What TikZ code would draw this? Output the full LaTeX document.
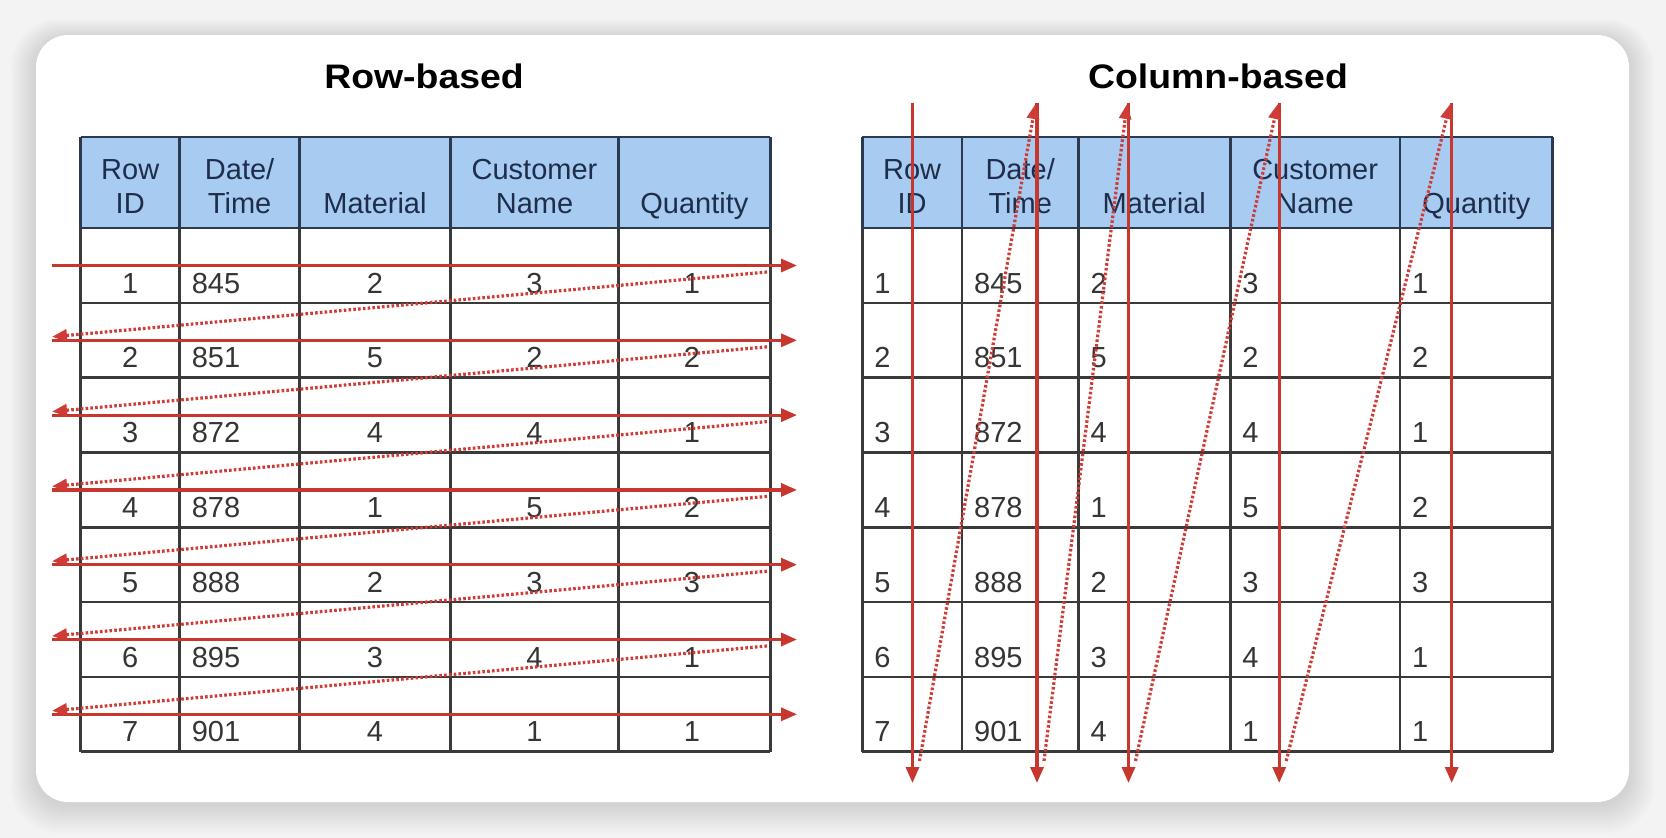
\documentclass[tikz,border=0pt]{standalone}
\usepackage{fontspec}
\setmainfont{Liberation Sans}
\usetikzlibrary{arrows.meta}
\definecolor{bgc}{HTML}{F3F3F3}
\definecolor{hdrblue}{HTML}{A8CBF1}
\definecolor{hdrline}{HTML}{2B3A4E}
\definecolor{gridc}{HTML}{3A3A3A}
\definecolor{hdrtext}{HTML}{1E2D4A}
\definecolor{datatext}{HTML}{353535}
\definecolor{arrowred}{HTML}{C8372D}
\definecolor{dotred}{HTML}{CF3B36}
\tikzset{
  titletext/.style={anchor=base, inner sep=0pt, font=\bfseries\fontsize{34}{40}\selectfont, text=black},
  hdrcell/.style={anchor=south, inner sep=0pt, text depth=0pt, align=center, font=\fontsize{29}{34}\selectfont, text=hdrtext},
  cellc/.style={anchor=base, inner sep=0pt, font=\fontsize{29}{34}\selectfont, text=datatext},
  celll/.style={anchor=base west, inner sep=0pt, font=\fontsize{29}{34}\selectfont, text=datatext},
  gridline/.style={draw=gridc, line width=2.6pt},
  hdrgrid/.style={draw=hdrline, line width=2.8pt},
  solidarrow/.style={draw=arrowred, line width=3.2pt, -{Triangle[length=16pt,width=13pt]}},
  dotarrow/.style={draw=dotred, line width=3.2pt, dash pattern=on 2.6pt off 2.2pt, -{Triangle[length=15pt,width=12pt]}}
}
\begin{document}
\begin{tikzpicture}[x=1pt,y=-1pt]
% background and card
\fill[bgc] (0,0) rectangle (1666,838);
\useasboundingbox (0,0) rectangle (1666,838);
\foreach \i in {1,...,16}{
  \pgfmathsetmacro\rc{32+\i}
  \fill[black, opacity=0.007, rounded corners=\rc pt] (36-\i*1.6, 35-\i*1.2+3) rectangle (1629+\i*1.6, 802+\i*1.8+3);
}
\fill[white, rounded corners=32pt] (36,35) rectangle (1629,802);

% titles
\node[titletext] (titleL) at (424,88.5) {\scalebox{1.1}[1]{Row-based}};
\node[titletext] (titleR) at (1218,88.5) {\scalebox{1.1}[1]{Column-based}};

% ---------- left table ----------
\fill[hdrblue] (80.75,137) rectangle (770.3,228);
\foreach \k in {1,...,7}{
  \pgfmathsetmacro\yy{228+74.8*\k}
  \draw[gridline] (80.75,\yy) -- (770.3,\yy);
}
\foreach \x in {80.75,179.6,299.6,450.5,618.4,770.3}{
  \draw[gridline] (\x,228) -- (\x,751.6);
  \draw[hdrgrid] (\x,137) -- (\x,228);
}
\draw[hdrgrid] (80.75,137) -- (770.3,137);
\draw[hdrgrid] (80.75,228) -- (770.3,228);

\node[hdrcell] (hL1) at (130.2,214) {Row\\ID};
\node[hdrcell] (hL2) at (239.6,214) {Date/\\Time};
\node[hdrcell] (hL3) at (375,214) {Material};
\node[hdrcell] (hL4) at (534.5,214) {Customer\\Name};
\node[hdrcell] (hL5) at (694.4,214) {Quantity};

\foreach \id/\dt/\ma/\cu/\qu [count=\r from 0] in {1/845/2/3/1,2/851/5/2/2,3/872/4/4/1,4/878/1/5/2,5/888/2/3/3,6/895/3/4/1,7/901/4/1/1}{
  \pgfmathsetmacro\yb{228+74.8*\r+65}
  \node[cellc] (lid\id) at (130.2,\yb) {\id};
  \node[celll] (ldt\id) at (191.6,\yb) {\dt};
  \node[cellc] (lma\id) at (375,\yb) {\ma};
  \node[cellc] (lcu\id) at (534.5,\yb) {\cu};
  \node[cellc] (lqu\id) at (692,\yb) {\qu};
}

% ---------- right table ----------
\fill[hdrblue] (862.2,137) rectangle (1552.6,228);
\foreach \k in {1,...,7}{
  \pgfmathsetmacro\yy{228+74.8*\k}
  \draw[gridline] (862.2,\yy) -- (1552.6,\yy);
}
\foreach \x in {862.2,962,1078.3,1230.2,1400,1552.6}{
  \draw[gridline] (\x,228) -- (\x,751.6);
  \draw[hdrgrid] (\x,137) -- (\x,228);
}
\draw[hdrgrid] (862.2,137) -- (1552.6,137);
\draw[hdrgrid] (862.2,228) -- (1552.6,228);

\node[hdrcell] (hR1) at (912.1,214) {Row\\ID};
\node[hdrcell] (hR2) at (1020.2,214) {Date/\\Time};
\node[hdrcell] (hR3) at (1154.3,214) {Material};
\node[hdrcell] (hR4) at (1315.1,214) {Customer\\Name};
\node[hdrcell] (hR5) at (1476.3,214) {Quantity};

\foreach \id/\dt/\ma/\cu/\qu [count=\r from 0] in {1/845/2/3/1,2/851/5/2/2,3/872/4/4/1,4/878/1/5/2,5/888/2/3/3,6/895/3/4/1,7/901/4/1/1}{
  \pgfmathsetmacro\yb{228+74.8*\r+65}
  \node[celll] (rid\id) at (874.2,\yb) {\id};
  \node[celll] (rdt\id) at (974,\yb) {\dt};
  \node[celll] (rma\id) at (1090.3,\yb) {\ma};
  \node[celll] (rcu\id) at (1242.2,\yb) {\cu};
  \node[celll] (rqu\id) at (1412,\yb) {\qu};
}

% ---------- row-based arrows ----------
\foreach \r in {0,...,6}{
  \pgfmathsetmacro\ya{228+74.8*\r+37.5}
  \coordinate (rsA\r) at (52,\ya);
  \coordinate (rsB\r) at (797,\ya);
  \draw[solidarrow] (rsA\r) -- (rsB\r);
}
\foreach \r in {0,...,5}{
  \pgfmathsetmacro\ya{228+74.8*\r+44}
  \pgfmathsetmacro\yb{228+74.8*(\r+1)+34}
  \coordinate (rdA\r) at (767,\ya);
  \coordinate (rdB\r) at (52,\yb);
  \draw[dotarrow] (rdA\r) -- (rdB\r);
}

% ---------- column-based arrows ----------
\foreach \x [count=\c] in {912.5,1037,1128.5,1279.2,1451.7}{
  \coordinate (csA\c) at (\x,103.3);
  \coordinate (csB\c) at (\x,783);
  \draw[solidarrow] (csA\c) -- (csB\c);
}
\foreach \xa/\xb [count=\c] in {912.5/1037,1037/1128.5,1128.5/1279.2,1279.2/1451.7}{
  \coordinate (cdA\c) at (\xa+7,761);
  \coordinate (cdB\c) at (\xb-1.5,104);
  \draw[dotarrow] (cdA\c) -- (cdB\c);
}
\end{tikzpicture}
\end{document}
